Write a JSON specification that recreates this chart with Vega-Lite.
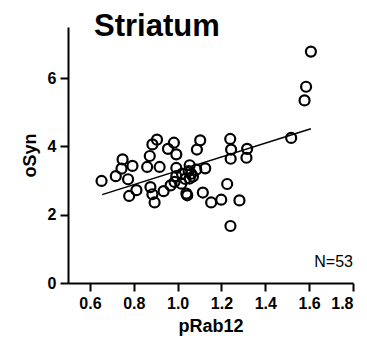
{
  "$schema": "https://vega.github.io/schema/vega-lite/v6.json",
  "width": 285,
  "height": 256,
  "autosize": "none",
  "padding": {"left": 68, "top": 27, "right": 14, "bottom": 66},
  "background": "white",
  "config": {
    "view": {"stroke": null},
    "font": "Liberation Sans",
    "axis": {
      "grid": false,
      "domainColor": "black",
      "domainWidth": 2,
      "tickColor": "black",
      "tickWidth": 2,
      "tickSize": 8,
      "labelColor": "black",
      "labelFont": "Liberation Sans",
      "labelFontWeight": "bold",
      "labelFontSize": 16,
      "titleFont": "Liberation Sans",
      "titleFontWeight": "bold",
      "titleFontSize": 18,
      "titleColor": "black"
    }
  },
  "title": {
    "text": "Striatum",
    "anchor": "start",
    "frame": "group",
    "dx": 26,
    "offset": -16,
    "fontSize": 31,
    "fontWeight": "bold",
    "font": "Liberation Sans",
    "color": "black"
  },
  "datasets": {
    "points": [
      {"pRab12": 1.608, "oSyn": 6.78},
      {"pRab12": 1.586, "oSyn": 5.75},
      {"pRab12": 1.579, "oSyn": 5.35},
      {"pRab12": 1.518, "oSyn": 4.25},
      {"pRab12": 1.240, "oSyn": 4.22},
      {"pRab12": 1.244, "oSyn": 3.91},
      {"pRab12": 1.242, "oSyn": 3.64},
      {"pRab12": 1.317, "oSyn": 3.93},
      {"pRab12": 1.314, "oSyn": 3.67},
      {"pRab12": 1.226, "oSyn": 2.90},
      {"pRab12": 1.282, "oSyn": 2.42},
      {"pRab12": 1.241, "oSyn": 1.67},
      {"pRab12": 1.199, "oSyn": 2.44},
      {"pRab12": 1.153, "oSyn": 2.36},
      {"pRab12": 1.115, "oSyn": 2.65},
      {"pRab12": 1.103, "oSyn": 4.18},
      {"pRab12": 1.088, "oSyn": 3.91},
      {"pRab12": 1.126, "oSyn": 3.36},
      {"pRab12": 1.085, "oSyn": 3.32},
      {"pRab12": 1.055, "oSyn": 3.45},
      {"pRab12": 1.062, "oSyn": 3.20},
      {"pRab12": 1.055, "oSyn": 3.06},
      {"pRab12": 1.040, "oSyn": 2.62},
      {"pRab12": 1.044, "oSyn": 2.57},
      {"pRab12": 1.020, "oSyn": 3.20},
      {"pRab12": 1.017, "oSyn": 2.91},
      {"pRab12": 0.994, "oSyn": 3.37},
      {"pRab12": 0.994, "oSyn": 3.13},
      {"pRab12": 0.986, "oSyn": 2.96},
      {"pRab12": 0.968, "oSyn": 2.86},
      {"pRab12": 0.983, "oSyn": 4.11},
      {"pRab12": 0.956, "oSyn": 3.93},
      {"pRab12": 0.994, "oSyn": 3.77},
      {"pRab12": 0.906, "oSyn": 4.20},
      {"pRab12": 0.885, "oSyn": 4.06},
      {"pRab12": 0.873, "oSyn": 3.72},
      {"pRab12": 0.861, "oSyn": 3.40},
      {"pRab12": 0.918, "oSyn": 3.40},
      {"pRab12": 0.936, "oSyn": 2.69},
      {"pRab12": 0.876, "oSyn": 2.81},
      {"pRab12": 0.885, "oSyn": 2.60},
      {"pRab12": 0.895, "oSyn": 2.36},
      {"pRab12": 0.812, "oSyn": 2.72},
      {"pRab12": 0.779, "oSyn": 2.55},
      {"pRab12": 0.774, "oSyn": 3.04},
      {"pRab12": 0.749, "oSyn": 3.62},
      {"pRab12": 0.744, "oSyn": 3.35},
      {"pRab12": 0.794, "oSyn": 3.43},
      {"pRab12": 0.718, "oSyn": 3.13},
      {"pRab12": 0.653, "oSyn": 2.99},
      {"pRab12": 1.050, "oSyn": 3.28},
      {"pRab12": 1.070, "oSyn": 3.12},
      {"pRab12": 1.035, "oSyn": 3.05}
    ],
    "fit": [
      {"pRab12": 0.656, "oSyn": 2.59},
      {"pRab12": 1.608, "oSyn": 4.52}
    ],
    "note": [
      {"pRab12": 1.8, "oSyn": 0.47, "label": "N=53"}
    ]
  },
  "layer": [
    {
      "data": {"name": "points"},
      "mark": {"type": "point", "shape": "circle", "filled": false, "stroke": "black", "strokeWidth": 2.2, "size": 100, "opacity": 1},
      "encoding": {
        "x": {
          "field": "pRab12", "type": "quantitative",
          "scale": {"domain": [0.5, 1.8], "nice": false, "zero": false},
          "axis": {"values": [0.6, 0.8, 1.0, 1.2, 1.4, 1.6, 1.8], "format": ".1f", "title": "pRab12", "labelPadding": 4, "titlePadding": 6}
        },
        "y": {
          "field": "oSyn", "type": "quantitative",
          "scale": {"domain": [0, 7.5], "nice": false},
          "axis": {"values": [0, 2, 4, 6], "title": "oSyn", "labelPadding": 4, "titlePadding": 8}
        }
      }
    },
    {
      "data": {"name": "fit"},
      "mark": {"type": "line", "color": "black", "strokeWidth": 1.5},
      "encoding": {
        "x": {"field": "pRab12", "type": "quantitative"},
        "y": {"field": "oSyn", "type": "quantitative"}
      }
    },
    {
      "data": {"name": "note"},
      "mark": {"type": "text", "align": "right", "baseline": "alphabetic", "fontSize": 16, "font": "Liberation Sans", "color": "black"},
      "encoding": {
        "x": {"field": "pRab12", "type": "quantitative"},
        "y": {"field": "oSyn", "type": "quantitative"},
        "text": {"field": "label"}
      }
    }
  ]
}
